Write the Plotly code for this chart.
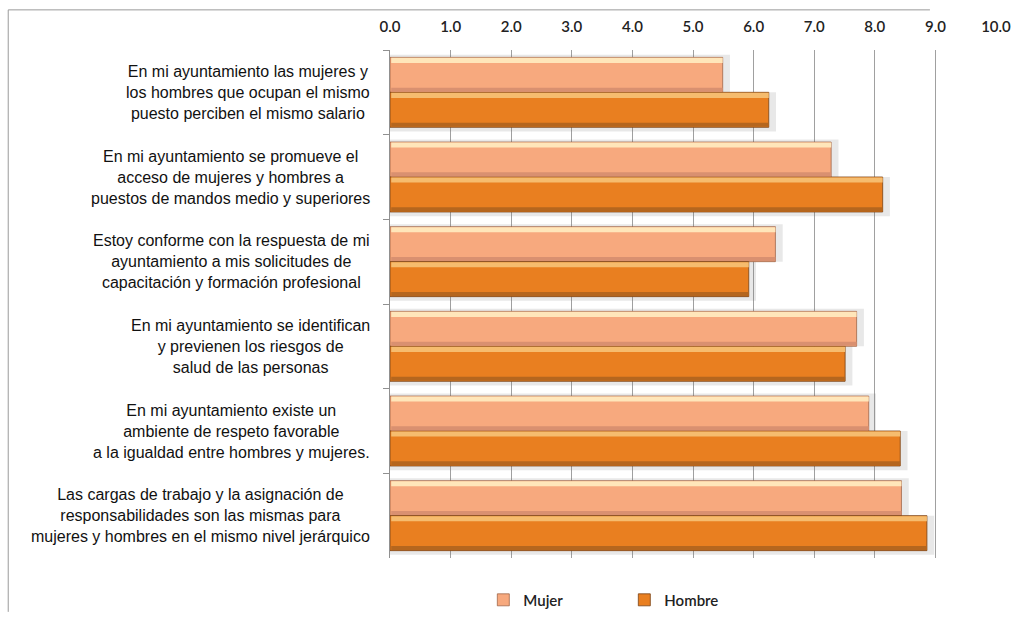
import plotly.graph_objects as go

categories = [
    "En mi ayuntamiento las mujeres y<br>los hombres que ocupan el mismo<br>puesto perciben el mismo salario",
    "En mi ayuntamiento se promueve el<br>acceso de mujeres y hombres a<br>puestos de mandos medio y superiores",
    "Estoy conforme con la respuesta de mi<br>ayuntamiento a mis solicitudes de<br>capacitación y formación profesional",
    "En mi ayuntamiento se identifican<br>y previenen los riesgos de<br>salud de las personas",
    "En mi ayuntamiento existe un<br>ambiente de respeto favorable<br>a la igualdad entre hombres y mujeres.",
    "Las cargas de trabajo y la asignación de<br>responsabilidades son las mismas para<br>mujeres y hombres en el mismo nivel jerárquico",
]
mujer = [5.49, 7.28, 6.36, 7.70, 7.90, 8.44]
hombre = [6.25, 8.13, 5.92, 7.51, 8.42, 8.86]
tick_vals = [0, 1, 2, 3, 4, 5, 6, 7, 8, 9, 10]
tick_text = ["0.0", "1.0", "2.0", "3.0", "4.0", "5.0", "6.0", "7.0", "8.0", "9.0", "10.0"]

ids = [f"c{i}" for i in range(len(categories))]

BW = 0.413  # bar thickness in category units

# style per series: (name, values, offset, main, top highlight, bottom shade, outline)
series = [
    ("Mujer", mujer, -BW, "#F7A97E", "#FFE6BA", "#D99070", "rgba(150,90,60,0.7)"),
    ("Hombre", hombre, 0.0, "#E97F20", "#F6BC6E", "#B5661E", "rgba(120,65,20,0.8)"),
]

fig = go.Figure()

# soft shadows
for name, vals, off, main, hi, lo, edge in series:
    fig.add_trace(go.Bar(
        y=ids, x=[v + 0.12 for v in vals], orientation="h", base=0,
        offset=off - 0.03 if off < 0 else off, width=BW + 0.03 if off < 0 else BW + 0.05,
        marker=dict(color="rgba(110,110,110,0.16)", line=dict(width=0)),
        showlegend=False, hoverinfo="skip",
    ))

# main bars
for name, vals, off, main, hi, lo, edge in series:
    fig.add_trace(go.Bar(
        name=name, y=ids, x=vals, orientation="h", base=0, offset=off, width=BW,
        marker=dict(color=main, line=dict(color=edge, width=1)),
    ))

# bevel highlights / shades
for name, vals, off, main, hi, lo, edge in series:
    fig.add_trace(go.Bar(
        y=ids, x=[v - 0.02 for v in vals], orientation="h", base=0.02, offset=off + 0.006, width=0.06,
        marker=dict(color=hi, line=dict(width=0)), showlegend=False, hoverinfo="skip",
    ))
    fig.add_trace(go.Bar(
        y=ids, x=[v - 0.02 for v in vals], orientation="h", base=0.02, offset=off + BW - 0.055, width=0.048,
        marker=dict(color=lo, line=dict(width=0)), showlegend=False, hoverinfo="skip",
    ))

for cid, lab in zip(ids, categories):
    fig.add_annotation(
        x=0, xref="paper", y=cid, yref="y", text=lab, showarrow=False,
        xanchor="right", yanchor="middle", align="center", xshift=-18,
        font=dict(family="Liberation Sans, Arial, sans-serif", size=16, color="#111"),
    )

fig.update_layout(
    width=1015, height=618,
    margin=dict(l=390, r=19, t=50, b=60),
    paper_bgcolor="white", plot_bgcolor="white",
    barmode="overlay",
    xaxis=dict(
        range=[0, 10], side="top", tickvals=tick_vals, ticktext=tick_text, automargin=False,
        showgrid=True, gridcolor="#a0a0a0", gridwidth=1, zeroline=False,
        ticks="", showline=False, ticklabelstandoff=14, ticklabeloverflow="allow",
        tickfont=dict(family="Lato, Open Sans, sans-serif", size=15, color="#222", weight=600),
    ),
    xaxis2=dict(
        range=[0, 10], overlaying="x", side="bottom", anchor="y", automargin=False,
        tickvals=tick_vals, showticklabels=False, ticks="outside", ticklen=6,
        tickcolor="#909090", showline=True, linecolor="#909090", showgrid=False, zeroline=False,
    ),
    yaxis=dict(
        categoryorder="array", categoryarray=ids, autorange="reversed", automargin=False,
        showticklabels=False, ticks="outside", tickson="boundaries", ticklen=6,
        tickcolor="#909090", showline=True, linecolor="#909090", showgrid=False,
    ),
    legend=dict(
        orientation="h", x=0.154, xanchor="left", xref="paper",
        y=0.029, yanchor="middle", yref="container",
        font=dict(family="Lato, Open Sans, sans-serif", size=15, color="#222", weight=600),
        entrywidth=96, entrywidthmode="pixels", traceorder="normal",
    ),
    showlegend=True,
)

# outer frame (partial, as in reference)
fig.add_shape(type="line", xref="paper", yref="paper", x0=-0.630, x1=-0.630, y0=1.079, y1=-0.106,
              line=dict(color="#9a9a9a", width=1))
fig.add_shape(type="line", xref="paper", yref="paper", x0=-0.630, x1=0.891, y0=1.079, y1=1.079,
              line=dict(color="#9a9a9a", width=1))

fig.write_html("out.html", config={"displayModeBar": False},
               post_script="document.body.style.margin='0';")
